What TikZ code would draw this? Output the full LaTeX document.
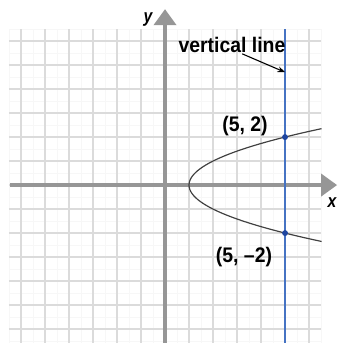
\documentclass[tikz,border=0pt]{standalone}
\usepackage{fontspec}
\setmainfont{Liberation Sans}
\usetikzlibrary{arrows.meta}
\definecolor{axisgray}{RGB}{150,150,150}
\definecolor{linieblue}{RGB}{70,115,195}
\definecolor{dotblue}{RGB}{30,70,160}
\tikzset{
  axis/.style={line width=4.5pt, axisgray, -{Triangle[length=0.67cm,width=0.92cm]}},
  lbl/.style={font=\bfseries\fontsize{25}{28}\selectfont, xscale=0.92, inner sep=1pt},
  axlbl/.style={font=\bfseries\itshape\fontsize{22}{24}\selectfont, xscale=0.85, inner sep=1pt},
  dot/.style={circle, fill=dotblue, inner sep=0pt, minimum size=7pt}
}
\begin{document}
\begin{tikzpicture}
			\useasboundingbox (-6.875,-6.58) rectangle (7.25,7.71);
			\draw[gray!6, line width=0.8pt] (-6.5,-6.6) grid[step=0.5] (6.5,6.5);
			\draw[gray!28, line width=1.5pt] (-6.5,-6.6) grid[step=1] (6.5,6.5);
			\draw[axis] (-6.46,0) -- (7.17,0); \draw[axis] (0,-6.6) -- (0,7.33);
			\node[axlbl] (xlab) at (6.96,-0.75) {x}; \node[axlbl] (ylab) at (-0.71,6.88) {y};
			\draw[linieblue, line width=1.6pt] (5,6.5) -- (5,-6.6);
			\draw[black!75, line width=1.4pt] plot[domain=-2.35:2.35, samples=60, smooth] ({\x*\x+1},\x);
			\node[dot] (p1) at (5,2) {}; \node[dot] (p2) at (5,-2) {};
			\node[lbl] (p1lab) at (3.33,2.46) {(5, 2)};
			\node[lbl] (p2lab) at (3.29,-3.0) {(5, --2)};
			\node[lbl] (vlab) at (2.79,5.83) {vertical line};
			\coordinate (vtip) at (5,4.7);
			\draw[line width=1.3pt, -{Stealth[length=9pt,width=7pt]}] (vlab.-38) -- (vtip);
		\end{tikzpicture}
\end{document}
